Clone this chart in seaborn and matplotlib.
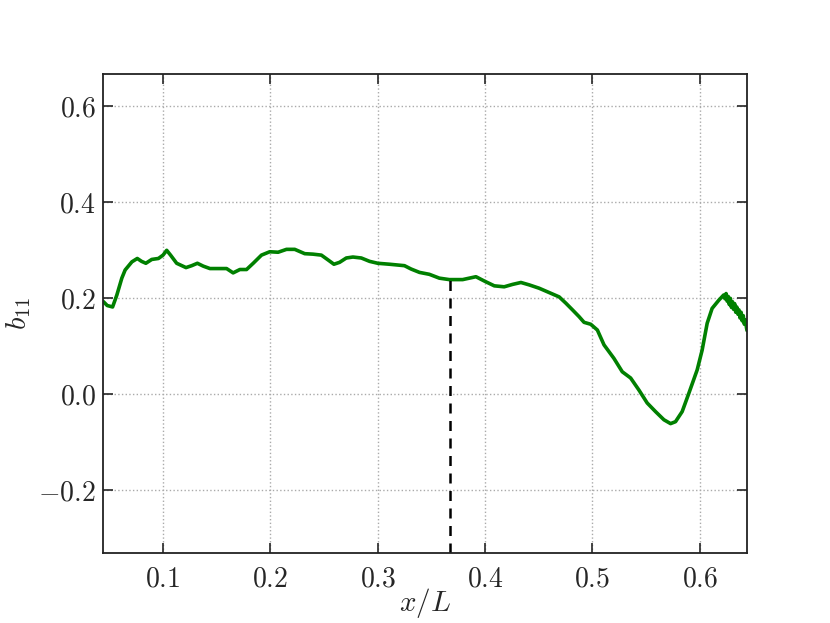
import numpy as np
import pandas as pd
import matplotlib
matplotlib.use('Agg')
import matplotlib.pyplot as plt
from matplotlib.ticker import FuncFormatter
import seaborn as sns

# values
x_over_L = [0.0445, 0.048, 0.053, 0.057, 0.0616, 0.0647, 0.071, 0.076, 0.080, 0.084,
            0.0895, 0.0957, 0.100, 0.1034, 0.107, 0.1127, 0.1214, 0.1267, 0.132, 0.1375,
            0.1437, 0.1514, 0.1592, 0.1653, 0.1716, 0.1778, 0.184, 0.1917, 0.1994, 0.2072,
            0.215, 0.2227, 0.232, 0.2397, 0.2475, 0.2537, 0.2592, 0.2645, 0.2707, 0.2769,
            0.2847, 0.2924, 0.300, 0.311, 0.3249, 0.3311, 0.3389, 0.3481, 0.3574, 0.3667,
            0.3791, 0.3853, 0.3915, 0.3993, 0.4086, 0.4178, 0.4256, 0.4334, 0.4411, 0.4504,
            0.4597, 0.469, 0.4752, 0.4814, 0.4875, 0.4922, 0.4984, 0.5046, 0.5108, 0.520,
            0.5278, 0.5356, 0.5433, 0.551, 0.5588, 0.5666, 0.5728, 0.5774, 0.5836, 0.5898,
            0.5976, 0.6022, 0.6069, 0.6115, 0.6177, 0.6223, 0.6235, 0.6245, 0.6255, 0.6265,
            0.6275, 0.6285, 0.6295, 0.6305, 0.6315, 0.6325, 0.6335, 0.6345, 0.6355, 0.6365,
            0.6375, 0.6385, 0.6395, 0.6405, 0.6415, 0.6425, 0.6435, 0.644]
b11 = [0.192, 0.184, 0.181, 0.206, 0.241, 0.258, 0.275, 0.282, 0.276, 0.272,
       0.280, 0.282, 0.289, 0.299, 0.289, 0.272, 0.263, 0.267, 0.272, 0.266,
       0.261, 0.261, 0.261, 0.252, 0.259, 0.259, 0.272, 0.289, 0.296, 0.295,
       0.301, 0.301, 0.292, 0.291, 0.289, 0.279, 0.270, 0.274, 0.283, 0.285,
       0.283, 0.276, 0.272, 0.270, 0.267, 0.260, 0.253, 0.249, 0.241, 0.238,
       0.238, 0.241, 0.244, 0.235, 0.225, 0.223, 0.228, 0.232, 0.227, 0.220,
       0.211, 0.202, 0.189, 0.175, 0.161, 0.149, 0.145, 0.133, 0.102, 0.074,
       0.046, 0.033, 0.008, -0.019, -0.037, -0.054, -0.062, -0.058, -0.037, 0.001,
       0.050, 0.091, 0.147, 0.178, 0.195, 0.206, 0.198, 0.209, 0.193, 0.203,
       0.186, 0.199, 0.180, 0.192, 0.176, 0.188, 0.170, 0.181, 0.166, 0.175,
       0.158, 0.170, 0.152, 0.163, 0.145, 0.154, 0.138, 0.132]
x_mark = 0.3675

x_ticks = [0.1, 0.2, 0.3, 0.4, 0.5, 0.6]
y_ticks = [-0.2, 0.0, 0.2, 0.4, 0.6]
x_range = (0.044, 0.644)
y_range = (-0.332, 0.666)

sns.set_style('ticks')
plt.rcParams['mathtext.fontset'] = 'cm'
plt.rcParams['font.family'] = ['DejaVu Serif']

df = pd.DataFrame({'x': x_over_L, 'b11': b11})

fig, ax = plt.subplots(figsize=(8.3, 6.23), dpi=100)
fig.subplots_adjust(left=0.124, right=0.9, top=0.881, bottom=0.112)

sns.lineplot(data=df, x='x', y='b11', ax=ax, color='#008000', linewidth=2.6,
             estimator=None, sort=False)

y_top = np.interp(x_mark, x_over_L, b11)
ax.plot([x_mark, x_mark], [y_range[0], y_top], color='black', linestyle='--',
        linewidth=1.8, dashes=(4, 3))

ax.set_xlim(*x_range)
ax.set_ylim(*y_range)
ax.set_xticks(x_ticks)
ax.set_yticks(y_ticks)
fmt = FuncFormatter(lambda v, p: '$%.1f$' % v)
ax.xaxis.set_major_formatter(fmt)
ax.yaxis.set_major_formatter(fmt)

ax.grid(True, linestyle=':', color='#aaaaaa', linewidth=1.0)
ax.tick_params(direction='in', length=7, width=1.2, top=True, right=True,
               labelsize=20, pad=5)
ax.tick_params(axis='x', pad=9)
for s in ax.spines.values():
    s.set_visible(True)
    s.set_linewidth(1.3)
    s.set_color('#222222')

ax.set_xlabel('$x/L$', fontsize=21, labelpad=-5)
ax.set_ylabel('$b_{11}$', fontsize=21, labelpad=4)

fig.savefig('out.png', dpi=100)
